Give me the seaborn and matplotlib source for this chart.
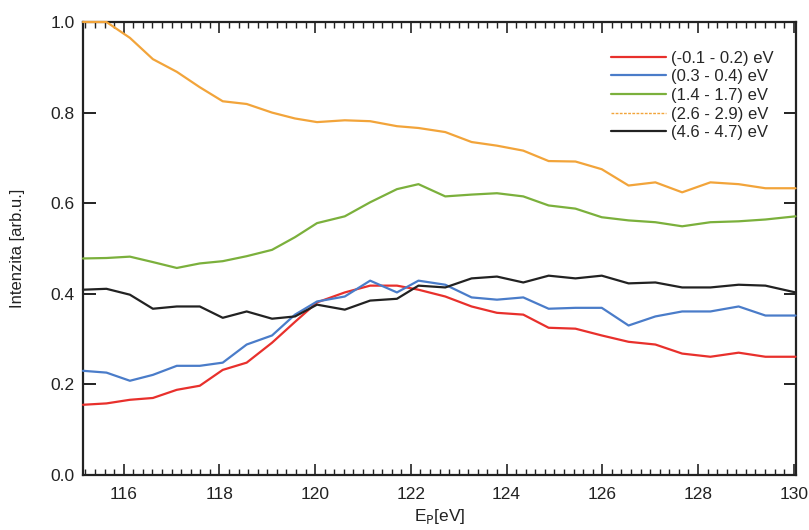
import seaborn as sns
import matplotlib.pyplot as plt
from matplotlib.ticker import MultipleLocator
import pandas as pd

# photon energy (eV)
energy = [115.15, 115.64, 116.13, 116.61, 117.11, 117.59, 118.07, 118.57, 119.10, 119.58,
          120.04, 120.62, 121.15, 121.71, 122.16, 122.72, 123.27, 123.80, 124.35, 124.88,
          125.44, 125.99, 126.55, 127.11, 127.67, 128.26, 128.85, 129.41, 130.04]

red = [0.155, 0.158, 0.166, 0.170, 0.188, 0.197, 0.232, 0.248, 0.292, 0.338,
       0.381, 0.403, 0.418, 0.418, 0.409, 0.394, 0.372, 0.358, 0.354, 0.325,
       0.323, 0.308, 0.294, 0.288, 0.268, 0.261, 0.270, 0.261, 0.261]
blue = [0.230, 0.226, 0.208, 0.221, 0.241, 0.241, 0.248, 0.288, 0.308, 0.354,
        0.383, 0.394, 0.429, 0.403, 0.429, 0.420, 0.392, 0.387, 0.392, 0.367,
        0.369, 0.369, 0.330, 0.350, 0.361, 0.361, 0.372, 0.352, 0.352]
green = [0.478, 0.479, 0.482, 0.470, 0.457, 0.467, 0.472, 0.483, 0.497, 0.525,
         0.556, 0.571, 0.602, 0.631, 0.642, 0.615, 0.619, 0.622, 0.615, 0.595,
         0.588, 0.569, 0.562, 0.558, 0.549, 0.558, 0.560, 0.564, 0.571]
orange = [1.000, 1.000, 0.965, 0.918, 0.890, 0.856, 0.825, 0.819, 0.800, 0.787,
          0.779, 0.783, 0.781, 0.770, 0.766, 0.757, 0.735, 0.727, 0.716, 0.693,
          0.692, 0.675, 0.639, 0.646, 0.624, 0.646, 0.642, 0.633, 0.633]
black = [0.409, 0.411, 0.398, 0.367, 0.372, 0.372, 0.347, 0.361, 0.345, 0.350,
         0.376, 0.365, 0.385, 0.389, 0.418, 0.414, 0.434, 0.438, 0.425, 0.440,
         0.434, 0.440, 0.423, 0.425, 0.414, 0.414, 0.420, 0.418, 0.403]

labels = ["(-0.1 - 0.2) eV", "(0.3 - 0.4) eV", "(1.4 - 1.7) eV", "(2.6 - 2.9) eV", "(4.6 - 4.7) eV"]
series = [red, blue, green, orange, black]
colors = ["#e8302c", "#4a7cc9", "#7bb03c", "#f2a43a", "#222222"]

rows = []
for lab, vals in zip(labels, series):
    for e, v in zip(energy, vals):
        rows.append([e, lab, v])
df = pd.DataFrame(rows, columns=["E", "range", "I"])

sns.set_style("ticks")
plt.rcParams["font.family"] = ["Liberation Sans", "DejaVu Sans"]

fig = plt.figure(figsize=(8.09, 5.30), dpi=100)
ax = fig.add_axes([0.1026, 0.1038, 0.8814, 0.8547])

sns.lineplot(data=df, x="E", y="I", hue="range", hue_order=labels,
             palette=dict(zip(labels, colors)), linewidth=1.6, sort=False, ax=ax)
for ln in ax.get_lines():
    ln.set_clip_on(False)
    ln.set_zorder(3)

ax.set_xlim(115.15, 130.05)
ax.set_ylim(0, 1.0)
ax.xaxis.set_major_locator(MultipleLocator(2))
ax.xaxis.set_minor_locator(MultipleLocator(0.2))
ax.yaxis.set_major_locator(MultipleLocator(0.2))
ax.yaxis.set_major_formatter(plt.FuncFormatter(lambda v, p: f"{v:.1f}"))

ax.tick_params(which="both", direction="in", top=True, right=True, labelsize=12.5,
               color="#222222", labelcolor="#222222")
ax.tick_params(axis="x", which="major", length=8, width=1.2, pad=9)
ax.tick_params(axis="x", which="minor", length=4, width=1)
ax.tick_params(axis="y", which="major", length=9, width=1.4, pad=6)
for sp in ax.spines.values():
    sp.set_linewidth(1.6)
    sp.set_color("#222222")

ax.set_xlabel("E$_\\mathrm{P}$[eV]", fontsize=12.5, color="#222222", labelpad=3)
ax.set_ylabel("Intenzita [arb.u.]", fontsize=12, color="#222222", labelpad=18)

handles, labs = ax.get_legend_handles_labels()
leg = ax.legend(handles, labs, loc="upper left", bbox_to_anchor=(604 / 809, 1 - 44 / 530),
                bbox_transform=fig.transFigure, frameon=False, fontsize=12,
                handlelength=3.3, handletextpad=0.3, labelspacing=0.22, borderaxespad=0)
leg.get_lines()[3].set_linestyle((0, (2, 1)))
leg.get_lines()[3].set_linewidth(1.0)

plt.savefig("out.png", dpi=100)
plt.close()
